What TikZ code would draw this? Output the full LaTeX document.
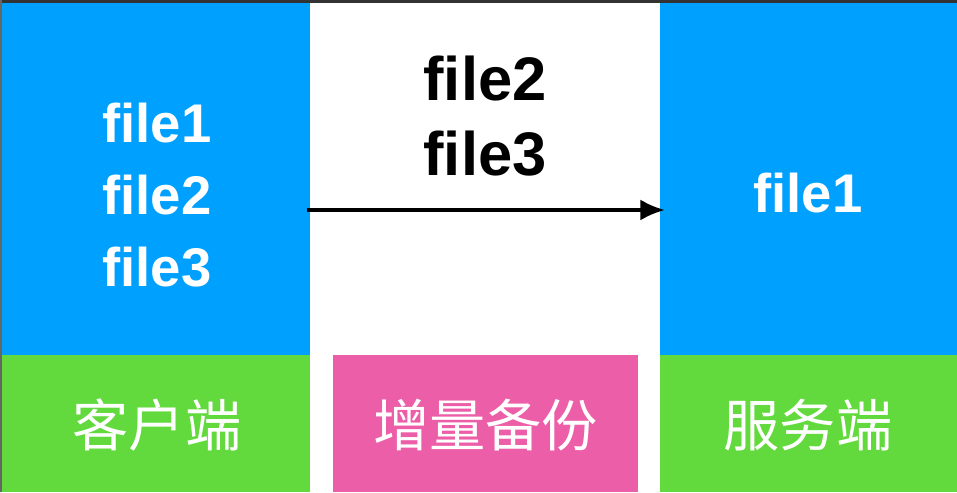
\documentclass[tikz,border=0pt]{standalone}
\usepackage{fontspec}
\setmainfont{Liberation Sans}
\newfontfamily\cjk{Noto Sans CJK SC}
\usetikzlibrary{arrows.meta,positioning}
\definecolor{skyblue}{HTML}{00A0FF}
\definecolor{grassgreen}{HTML}{62D93C}
\definecolor{rosepink}{HTML}{EC5FA8}
\tikzset{
	files/.style={text=white, font=\bfseries\fontsize{31}{41}\selectfont, align=center},
	tag/.style={text=white, font=\cjk\fontsize{32}{36}\selectfont}
}
\begin{document}
\begin{tikzpicture}
    \useasboundingbox (0,0) rectangle (19.14,9.84);
    \fill[black!80] (0,9.78) rectangle (19.14,9.84);
    \fill[black!60] (0,0) rectangle (0.04,9.84);

    \fill[skyblue] (0.04,2.74) rectangle (6.2,9.78);
    \fill[grassgreen] (0.04,0) rectangle (6.2,2.74);
    \fill[skyblue] (13.2,2.74) rectangle (19.14,9.78);
    \fill[grassgreen] (13.2,0) rectangle (19.14,2.74);
    \fill[rosepink] (6.66,0) rectangle (12.76,2.74);

    \node[files] (client) at (3.14,5.94) {file1\\file2\\file3};
    \node[files] (server) at (16.16,5.98) {file1};
    \node[files, text=black, font=\bfseries\fontsize{35}{43}\selectfont] (delta) at (9.7,7.52) {file2\\file3};

    \node[tag] (clientlbl) at (3.14,1.34) {客户端};
    \node[tag] (deltalbl) at (9.71,1.34) {增量备份};
    \node[tag] (serverlbl) at (16.16,1.34) {服务端};

    \coordinate (src) at (6.14,5.64);
    \coordinate (dst) at (13.3,5.64);
    \draw[line width=2.2pt, -{Latex[length=14pt,width=12pt]}] (src) -- (dst);
\end{tikzpicture}
\end{document}
